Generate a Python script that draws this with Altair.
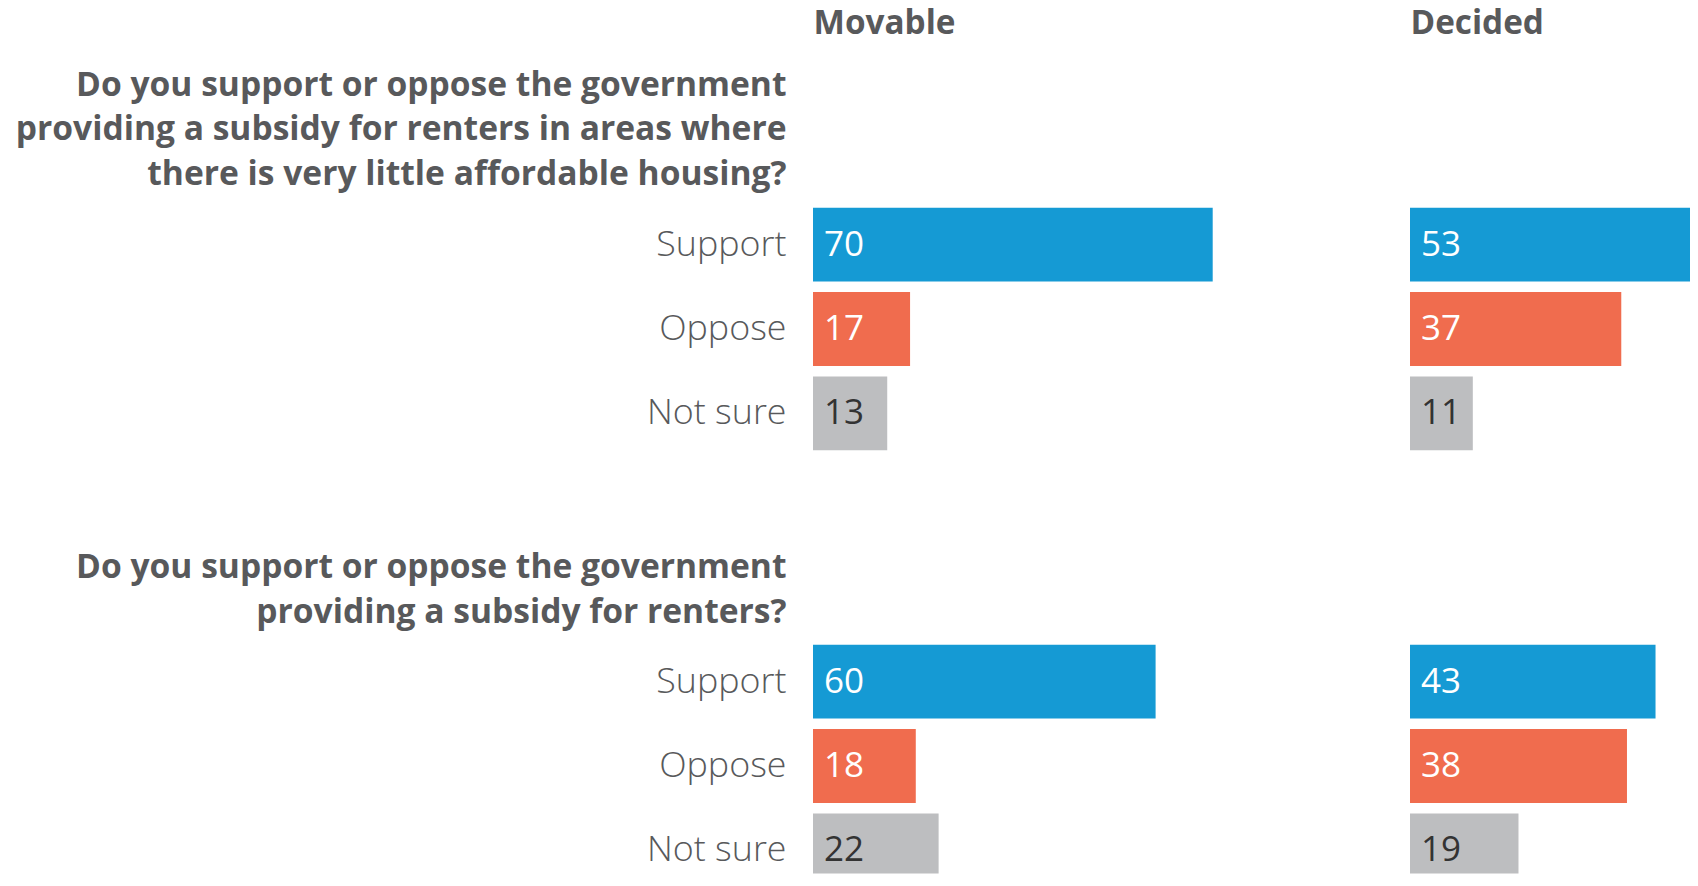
import altair as alt
import pandas as pd

# ---- data ----
groups = ["Movable", "Decided"]
responses = ["Support", "Oppose", "Not sure"]
question_1 = [
    "Do you support or oppose the government",
    "providing a subsidy for renters in areas where",
    "there is very little affordable housing?",
]
question_2 = [
    "Do you support or oppose the government",
    "providing a subsidy for renters?",
]
movable_q1 = [70, 17, 13]
decided_q1 = [53, 37, 11]
movable_q2 = [60, 18, 22]
decided_q2 = [43, 38, 19]
bar_colors = ["#159ad4", "#f06c4e", "#bdbec0"]

# ---- styling ----
FONT = "Open Sans"
TEXT = "#58595b"
PX_PER_UNIT = 5.71
BAND_RANGE = 243
W_LEFT = 570
W_RIGHT = 280


def frame(values):
    return pd.DataFrame({"response": responses, "value": values})


def panel(values, width, height, header=None, question=None, title_y=0):
    xscale = alt.Scale(domain=[0, width / PX_PER_UNIT], nice=False, zero=True)
    yscale = alt.Scale(paddingInner=0.124, paddingOuter=0, range=[0, BAND_RANGE])
    if header is not None:
        xaxis = alt.Axis(
            orient="top", title=header, labels=False, ticks=False, domain=False,
            grid=False, titleFont=FONT, titleFontSize=33.3, titleFontWeight="bold",
            titleColor=TEXT, titleAlign="left", titleBaseline="alphabetic",
            titleX=0, titleY=-174.3,
        )
    else:
        xaxis = None
    if question is not None:
        yaxis = alt.Axis(
            title=question, titleAngle=0, titleAlign="right",
            titleBaseline="alphabetic", titleX=-27, titleY=title_y,
            titleFont=FONT, titleFontSize=33.6, titleFontWeight="bold",
            titleColor=TEXT, titleLineHeight=44.6,
            labelFont=FONT, labelFontSize=35.8, labelFontWeight=300,
            labelColor=TEXT, labelPadding=27, labelLimit=400,
            ticks=False, domain=False, grid=False,
        )
    else:
        yaxis = None
    y_enc = alt.Y("response:N", sort=responses, scale=yscale, axis=yaxis)
    base = alt.Chart(frame(values))
    bars = base.mark_bar(clip=True).encode(
        x=alt.X("value:Q", scale=xscale, axis=xaxis),
        y=y_enc,
        color=alt.Color("response:N", scale=alt.Scale(domain=responses, range=bar_colors), legend=None),
    )
    labels = base.mark_text(
        align="left", baseline="middle", dx=11, font=FONT, fontSize=35
    ).encode(
        x=alt.X(datum=0, scale=xscale, axis=xaxis),
        y=y_enc,
        text="value:Q",
        color=alt.condition(alt.datum.response == "Not sure", alt.value("#333333"), alt.value("#ffffff")),
    )
    return alt.layer(bars, labels).properties(width=width, height=height)


p11 = panel(movable_q1, W_LEFT, BAND_RANGE, header=groups[0], question=question_1, title_y=-112.5)
p12 = panel(decided_q1, W_RIGHT, BAND_RANGE, header=groups[1])
p21 = panel(movable_q2, W_LEFT, 229, question=question_2, title_y=-67)
p22 = panel(decided_q2, W_RIGHT, 229)

chart = alt.concat(
    p11, p12, p21, p22, columns=2,
    spacing={"row": 194, "column": 27}, bounds="flush",
).properties(
    padding={"left": 7, "top": -2.5, "right": 0, "bottom": 0},
    background="white",
).configure_view(strokeWidth=0)

chart.save("out.html", embed_options={"renderer": "svg", "actions": False})
